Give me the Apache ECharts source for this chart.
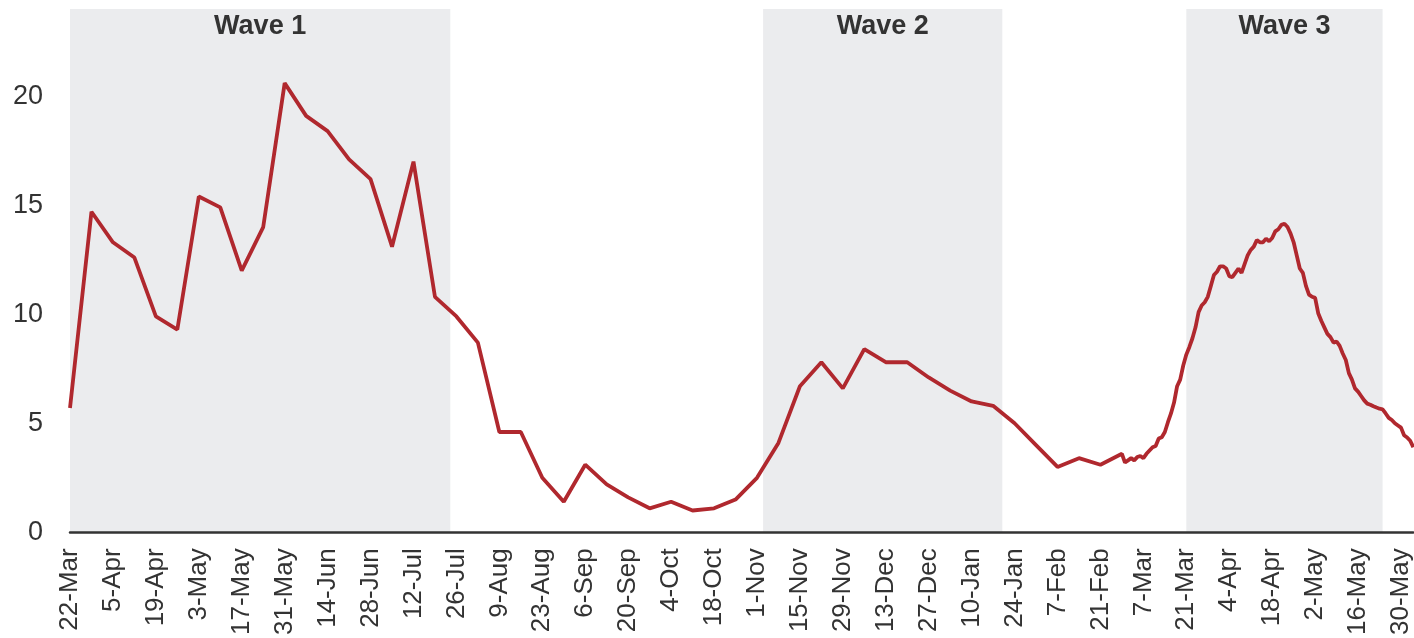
<!DOCTYPE html>
<html>
<head>
<meta charset="utf-8">
<script src="https://cdn.jsdelivr.net/npm/echarts@6/dist/echarts.min.js"></script>
<style>
html, body { margin: 0; padding: 0; background: #fff; }
#chart { width: 1414px; height: 638px; }
</style>
</head>
<body>
<div id="chart"></div>
<script>
// weekly values, 22-Mar-2020 .. 28-Feb-2021
const weeklyStart = '2020-03-22'
const weeklyValues = [
    5.7, 14.7, 13.3, 12.6, 9.9, 9.3, 15.4, 14.9, 12.0, 14.0,
    20.6, 19.1, 18.4, 17.1, 16.2, 13.1, 17.0, 10.8, 9.9, 8.7,
    4.6, 4.6, 2.5, 1.4, 3.1, 2.2, 1.6, 1.1, 1.4, 1.0,
    1.1, 1.5, 2.5, 4.1, 6.7, 7.8, 6.6, 8.4, 7.8, 7.8,
    7.1, 6.5, 6.0, 5.8, 5.0, 4.0, 3.0, 3.4, 3.1, 3.6
]
// daily values, 1-Mar-2021 .. 3-Jun-2021
const dailyStart = '2021-03-01'
const dailyValues = [
    3.2, 3.3, 3.4, 3.3, 3.45, 3.5, 3.4, 3.6, 3.75, 3.9,
    3.96, 4.3, 4.36, 4.6, 5.05, 5.45, 5.95, 6.7, 7.0, 7.65,
    8.15, 8.5, 8.9, 9.4, 10.1, 10.4, 10.55, 10.8, 11.3, 11.8,
    11.95, 12.2, 12.2, 12.1, 11.75, 11.7, 11.9, 12.1, 11.9, 12.3,
    12.7, 12.95, 13.1, 13.4, 13.3, 13.3, 13.47, 13.35, 13.5, 13.8,
    13.9, 14.1, 14.15, 14.0, 13.7, 13.3, 12.7, 12.1, 11.9, 11.3,
    10.9, 10.8, 10.75, 10.05, 9.7, 9.4, 9.1, 8.95, 8.7, 8.75,
    8.55, 8.2, 7.9, 7.3, 7.0, 6.6, 6.45, 6.25, 6.05, 5.9,
    5.85, 5.78, 5.72, 5.67, 5.64, 5.45, 5.25, 5.15, 5.0, 4.9,
    4.8, 4.45, 4.35, 4.2, 3.9
]
const endDate = '2021-06-03'

const waveNames = ['Wave 1', 'Wave 2', 'Wave 3']
const waveStarts = ['2020-03-22', '2020-11-03', '2021-03-21']
const waveEnds = ['2020-07-24', '2021-01-20', '2021-05-24']

const monthNames = ['Jan', 'Feb', 'Mar', 'Apr', 'May', 'Jun', 'Jul', 'Aug', 'Sep', 'Oct', 'Nov', 'Dec']
const DAY = 86400000

function toKey(t) {
    return new Date(t).toISOString().slice(0, 10)
}

// one category per day
let categories = []
for (let t = Date.parse(weeklyStart); t <= Date.parse(endDate); t += DAY) {
    categories.push(toKey(t))
}
let values = categories.map(() => null)
weeklyValues.forEach((v, i) => {
    values[categories.indexOf(toKey(Date.parse(weeklyStart) + i * 7 * DAY))] = v
})
dailyValues.forEach((v, i) => {
    values[categories.indexOf(toKey(Date.parse(dailyStart) + i * DAY))] = v
})

let chart = echarts.init(document.getElementById('chart'))
let option = {
    animation: false,
    grid: {
        left: 70,
        right: 0,
        top: 9,
        bottom: 105
    },
    xAxis: {
        type: 'category',
        data: categories,
        boundaryGap: false,
        z: 10,
        axisLine: { lineStyle: { color: '#333', width: 2.5 } },
        axisTick: { show: false },
        axisLabel: {
            interval: 13,
            rotate: 90,
            margin: 16,
            fontSize: 26,
            fontFamily: 'Liberation Sans',
            color: '#333',
            formatter: (v) => {
                let d = new Date(v + 'T00:00:00Z')
                return d.getUTCDate() + '-' + monthNames[d.getUTCMonth()]
            }
        },
        splitLine: { show: false }
    },
    yAxis: {
        type: 'value',
        min: 0,
        max: 24,
        interval: 5,
        axisLine: { show: false },
        axisTick: { show: false },
        splitLine: { show: false },
        axisLabel: {
            showMaxLabel: false,
            margin: 27,
            fontSize: 27,
            fontFamily: 'Liberation Sans',
            color: '#333'
        }
    },
    series: [
        {
            type: 'line',
            data: values,
            connectNulls: true,
            showSymbol: false,
            lineStyle: { color: '#B0282E', width: 3.8 },
            z: 3,
            markArea: {
                silent: true,
                itemStyle: { color: '#EBECEE' },
                label: {
                    position: 'insideTop',
                    distance: 4,
                    fontSize: 27,
                    fontWeight: 'bold',
                    fontFamily: 'Liberation Sans',
                    color: '#333'
                },
                data: waveNames.map((n, i) => [
                    { name: n, xAxis: waveStarts[i] },
                    { xAxis: waveEnds[i] }
                ])
            }
        }
    ]
}
chart.setOption(option)
</script>
</body>
</html>
